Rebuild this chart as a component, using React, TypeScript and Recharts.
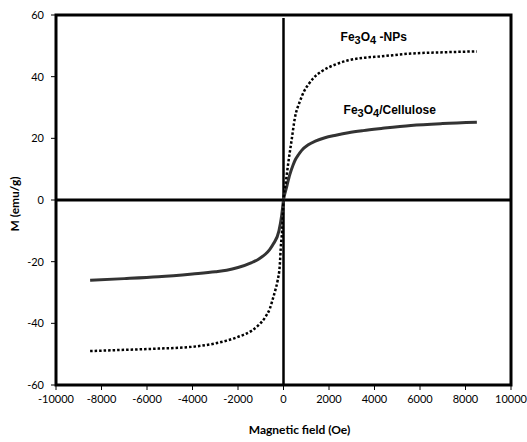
import {
  LineChart,
  Line,
  XAxis,
  YAxis,
  ReferenceArea,
  ReferenceLine,
  ReferenceDot,
  Label,
} from 'recharts';

// axis ticks
const xTicks = [-10000, -8000, -6000, -4000, -2000, 0, 2000, 4000, 6000, 8000, 10000];
const yTicks = [-60, -40, -20, 0, 20, 40, 60];

// Fe3O4 nanoparticles (dotted)
const npsField = [
  -8500, -7000, -5500, -4000, -3000, -2500, -2000, -1400, -1100, -800, -600, -450, -350,
  -260, -160, -120, -60, 0, 90, 200, 350, 500, 720, 900, 1090, 1350, 1670, 2300, 2850, 3500,
  4300, 5600, 7000, 8500,
];
const npsMoment = [
  -49.0, -48.6, -48.2, -47.6, -46.5, -45.6, -44.4, -42.4, -40.6, -38.0, -35.2, -31.6, -29.0,
  -26.2, -20.8, -15.4, -10.0, 0, 5.0, 11.5, 19.1, 26.6, 32.0, 35.2, 37.4, 39.8, 41.7, 44.0, 45.3, 46.1,
  46.6, 47.5, 47.9, 48.2,
];

// Fe3O4/Cellulose (solid)
const celluloseField = [
  -8500, -7000, -5500, -4000, -3000, -2500, -2000, -1400, -1100, -800, -600, -450, -200, -80, 0,
  130, 280, 430, 530, 650, 800, 1090, 1400, 1820, 2300, 2850, 3500, 4300, 5600, 7000, 8500,
];
const celluloseMoment = [
  -26.0, -25.5, -24.9, -24.0, -23.3, -22.8, -21.9, -20.3, -19.2, -17.6, -16.0, -14.3, -10.0, -5.0, 0,
  4.0, 8.3, 11.5, 13.2, 14.6, 16.1, 17.9, 19.1, 20.2, 21.0, 21.8, 22.5, 23.2, 24.2, 24.8, 25.2,
];

const npsData = npsField.map((h, i) => ({ h, m: npsMoment[i] }));
const celluloseData = celluloseField.map((h, i) => ({ h, m: celluloseMoment[i] }));

const tickStyle = { fontFamily: 'Lato', fontSize: 11, fill: '#000' };

/**
 * Series name with subscripts, drawn at a reference dot
 */
function seriesLabel(suffix: string) {
  return (props: any) => {
    const vb = props.viewBox || {};
    return (
      <text
        x={vb.x}
        y={vb.y}
        fontFamily="Liberation Sans"
        fontWeight="bold"
        fontSize={12}
        fill="#000"
      >
        Fe
        <tspan fontSize={11} dy={3}>3</tspan>
        <tspan dy={-3}>O</tspan>
        <tspan fontSize={11} dy={3}>4</tspan>
        <tspan dy={-3}>{suffix}</tspan>
      </text>
    );
  };
}

export default function App() {
  return (
    <div style={{ width: 527, height: 442 }}>
      <style>{'body{margin:0}'}</style>
      <LineChart width={527} height={442} margin={{ top: 15, right: 16, bottom: 0, left: 0 }}>
        <XAxis
          dataKey="h"
          type="number"
          domain={[-10000, 10000]}
          ticks={xTicks}
          allowDataOverflow
          height={57}
          axisLine={false}
          tickLine={{ stroke: '#000', strokeWidth: 1 }}
          tickSize={5}
          tickMargin={5}
          tick={tickStyle}
          interval={0}
        >
          <Label
            content={(p: any) => {
              const vb = p.viewBox || {};
              return (
                <text
                  x={vb.x + vb.width / 2 + 16}
                  y={434}
                  textAnchor="middle"
                  fontFamily="Lato"
                  fontWeight="bold"
                  fontSize={12}
                  fill="#000"
                >
                  Magnetic field (Oe)
                </text>
              );
            }}
          />
        </XAxis>
        <YAxis
          type="number"
          domain={[-60, 60]}
          ticks={yTicks}
          width={56}
          axisLine={false}
          tickLine={{ stroke: '#000', strokeWidth: 1 }}
          tickSize={5}
          tickMargin={7}
          tick={tickStyle}
          interval={0}
        >
          <Label
            content={() => (
              <text
                x={19}
                y={204}
                transform="rotate(-90 19 204)"
                textAnchor="middle"
                fontFamily="Lato"
                fontWeight="bold"
                fontSize={12}
                fill="#000"
              >
                M (emu/g)
              </text>
            )}
          />
        </YAxis>

        <ReferenceLine y={0} stroke="#000" strokeWidth={3} />
        <ReferenceLine
          segment={[
            { x: 0, y: -60 },
            { x: 0, y: 59 },
          ]}
          stroke="#000"
          strokeWidth={2.5}
        />

        <Line
          data={celluloseData}
          dataKey="m"
          type="monotone"
          stroke="#333"
          strokeWidth={3}
          dot={false}
          isAnimationActive={false}
        />
        <Line
          data={npsData}
          dataKey="m"
          type="monotone"
          stroke="#000"
          strokeWidth={2.5}
          strokeDasharray="2.5 2"
          dot={false}
          isAnimationActive={false}
        />

        <ReferenceArea
          x1={-10000}
          x2={10000}
          y1={-60}
          y2={60}
          fill="none"
          fillOpacity={0}
          stroke="#000"
          strokeWidth={3}
        />

        <ReferenceDot x={2510} y={51.5} r={0} fill="none" stroke="none" label={seriesLabel(' -NPs')} />
        <ReferenceDot x={2640} y={27.8} r={0} fill="none" stroke="none" label={seriesLabel('/Cellulose')} />
      </LineChart>
    </div>
  );
}
